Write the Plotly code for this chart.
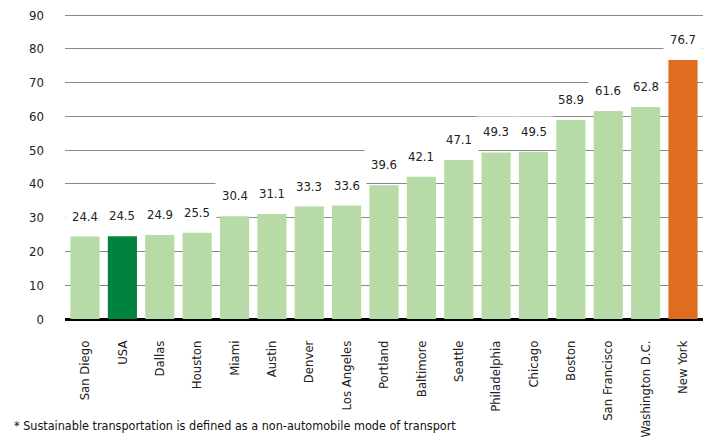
import plotly.graph_objects as go

cities = ["San Diego", "USA", "Dallas", "Houston", "Miami", "Austin", "Denver",
          "Los Angeles", "Portland", "Baltimore", "Seattle", "Philadelphia",
          "Chicago", "Boston", "San Francisco", "Washington D.C.", "New York"]
values = [24.4, 24.5, 24.9, 25.5, 30.4, 31.1, 33.3, 33.6, 39.6, 42.1, 47.1,
          49.3, 49.5, 58.9, 61.6, 62.8, 76.7]
y_ticks = [0, 10, 20, 30, 40, 50, 60, 70, 80, 90]
footnote = "* Sustainable transportation is defined as a non-automobile mode of transport"

LIGHT = "#b6dba6"
colors = [LIGHT] * len(cities)
colors[cities.index("USA")] = "#00843d"
colors[cities.index("New York")] = "#e06c1f"

FONT = "DejaVu Sans Condensed, Liberation Sans Narrow, sans-serif"

fig = go.Figure(go.Bar(
    x=cities, y=values, marker_color=colors, marker_line_width=0,
    hoverinfo="x+y",
))

# value labels with white boxes that cut through the gridlines
for c, v in zip(cities, values):
    fig.add_annotation(
        x=c, y=v, text=f"{v:.1f}", showarrow=False, yshift=21,
        bgcolor="white", width=36, height=26,
        font=dict(family=FONT, size=13, color="#222"),
    )

fig.add_annotation(
    x=0, y=0, xref="paper", yref="paper", xanchor="left", yanchor="bottom",
    xshift=-53, yshift=-116, text=footnote, showarrow=False,
    font=dict(family=FONT, size=12.5, color="#111"),
)

# the page body adds an 8px offset, so the figure is 8px smaller here
fig.update_layout(
    width=707, height=431,
    margin=dict(l=57, r=12, t=5, b=120),
    plot_bgcolor="white", paper_bgcolor="white",
    bargap=0.22, showlegend=False,
    font=dict(family=FONT, size=13, color="#222"),
)
fig.update_xaxes(tickangle=-90, showline=False, ticks="", automargin=False,
                 ticklabelstandoff=18, tickfont=dict(size=13))
# range a bit past 90 so plotly keeps the top gridline
fig.update_yaxes(
    range=[0, 90.6], tickvals=y_ticks, showgrid=True, gridcolor="#8a8a8a",
    gridwidth=1, zeroline=True, zerolinecolor="black", zerolinewidth=3,
    ticks="", ticklabelstandoff=20, automargin=False, ticklabeloverflow="allow",
    tickfont=dict(size=13),
)

fig.write_html("out.html")
